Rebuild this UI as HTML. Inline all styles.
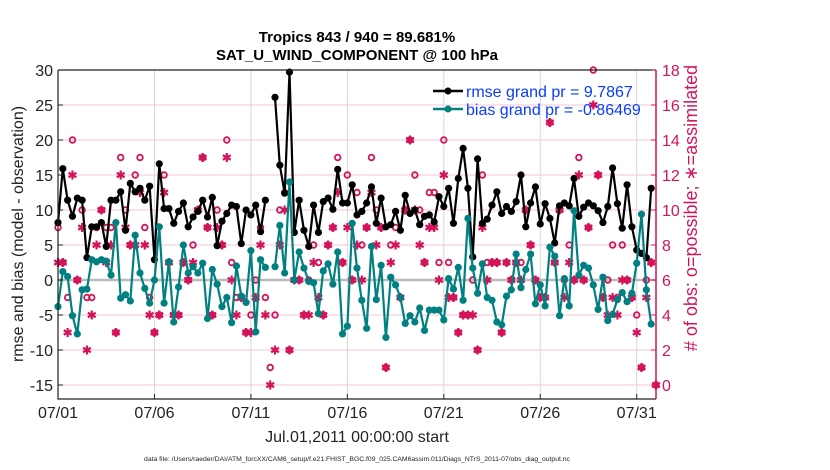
<!DOCTYPE html>
<html><head><meta charset="utf-8"><style>
body{margin:0;background:#fff;}
svg{display:block;font-family:"Liberation Sans",sans-serif;}
</style></head><body>
<svg id="chart" width="830" height="470" viewBox="0 0 830 470">
<text x="357" y="42" text-anchor="middle" font-size="15" font-weight="bold">Tropics 843 / 940 = 89.681%</text>
<text x="357" y="60" text-anchor="middle" font-size="15" font-weight="bold">SAT_U_WIND_COMPONENT @ 100 hPa</text>
<g id="grid"></g><g id="plot"></g><g id="axes"></g>
<text x="357" y="442" text-anchor="middle" font-size="16" fill="#222">Jul.01,2011 00:00:00 start</text>
<text x="357" y="461" text-anchor="middle" font-size="6.8" fill="#222">data file: /Users/raeder/DAI/ATM_forcXX/CAM6_setup/f.e21.FHIST_BGC.f09_025.CAM6assim.011/Diags_NTrS_2011-07/obs_diag_output.nc</text>
<text transform="translate(23,234) rotate(-90)" text-anchor="middle" font-size="16" fill="#222">rmse and bias (model - observation)</text>
<text transform="translate(697,208) rotate(-90)" text-anchor="middle" font-size="18" fill="#d4145a"># of obs: o=possible; ∗=assimilated</text>
<g>
<line x1="433" y1="91" x2="463" y2="91" stroke="#000" stroke-width="2.5"/><circle cx="448" cy="91" r="3.5" fill="#000"/>
<text x="466" y="97" font-size="16" fill="#0a3cff">rmse grand pr = 9.7867</text>
<line x1="433" y1="109" x2="463" y2="109" stroke="#008080" stroke-width="2.5"/><circle cx="448" cy="109" r="3.5" fill="#008080"/>
<text x="466" y="115" font-size="16" fill="#0a3cff">bias grand pr = -0.86469</text>
</g>
</svg>
<script>
const rmse=[8.2,15.9,11.4,9.1,11.7,11.4,3.2,7.6,7.6,8.2,4.8,11.4,11.4,12.6,7.1,13.8,12.6,13.1,11.4,13.4,2.9,16.6,10.2,10.2,8.1,9.8,11,7.6,9,9.8,11.4,9,11.8,4.9,8.4,9.5,10.7,10.5,5.2,10,9.3,10.7,6.9,11.4,null,26.1,16.4,12.4,29.7,6.8,11.4,7.1,4.8,10.7,6.8,11.2,11.7,10.1,15.8,11,11,13.6,9.3,9.8,11,13.3,8.1,11.7,7.6,7.9,9.8,7.1,12.1,9.5,10,7.9,9.1,9.3,8.3,11.9,10.5,13.1,8.1,14.5,18.8,13.1,3.3,17.3,8.1,8.7,10.7,12.6,9.5,10.5,9.8,11.2,15,7.6,11,13.3,8,10.9,8.8,5.3,10.6,11,10.6,14.5,9.1,10.4,11,10.6,9.9,8.2,10.5,16,10.9,7.4,13.6,7.6,4.3,3.8,3.2,13.1,null];
const bias=[-3.8,1.2,0.5,-5.1,-7.7,-1.4,-1.3,2.9,2.6,2.9,2.7,0.7,8.2,-2.6,-2.1,-3,6.4,1,-1.2,-3.3,0,7.6,-3.3,2.6,-6,-1,5,1,1.9,1,2.4,-5.5,1.5,-0.6,-3.8,-2.5,-6.1,2,-2.3,-3.2,4.2,-7.4,2.9,1.8,null,1.9,7.8,1,14,0,4,1.7,-0.2,-0.4,-4.8,1.3,2.3,-0.6,4,-7.7,-6.6,8.1,1.7,-2.9,-6.9,4.8,-2.8,2.1,-8.2,0.4,-0.7,-2.5,-6.2,-5.1,-6,-4,-7.2,-4.3,-4.3,-4.3,-5.7,0.2,-1.3,1.8,-2.9,8.8,1.7,-1.9,2.3,-2.5,-2.9,-6,-6.4,-2.3,-1.4,3.7,-1.1,1.5,3.7,-3.4,-0.7,-3.7,4.7,3.4,-5.1,0.2,-3.7,9.9,0.7,2.1,1.7,-0.7,-4.2,0.4,-5.8,-4.9,-2.8,-1.8,-3.1,-1.9,2.4,9.4,-1.4,-6.3,null];
const assimilated=[7,7,3,12,6,9,2,4,8,10,7,8,3,12,9,8,8,11,8,4,3,4,11,7,4,4,7,6,7,10,13,9,4,9,8,13,6,4,5,3,3,5,8,4,0,2,8,10,2,6,6,4,4,7,5,4,8,9,11,7,9,6,8,6,9,11,8,9,1,7,8,5,10,14,10,8,7,9,9,6,12,5,5,3,4,4,4,2,9,6,7,7,3,7,6,7,6,10,8,6,5,5,15,7,10,5,7,6,12,6,9,16,12,5,4,5,4,6,6,5,3,1,5,7,0];
const possible=[9,7,5,14,6,10,5,5,9,10,9,9,3,13,10,8,12,13,9,5,3,4,12,7,4,4,7,6,8,10,13,9,4,10,8,14,7,5,5,3,4,6,9,5,1,4,10,11,2,6,6,4,6,8,7,4,8,9,13,7,12,6,11,8,9,13,10,9,1,8,9,5,10,14,12,10,7,11,11,7,14,7,5,3,4,4,6,2,12,7,7,7,3,7,6,7,7,10,8,6,5,5,15,7,10,6,8,6,13,6,9,18,12,5,6,8,5,8,6,5,4,1,6,7,0];
const yTicks=[-15,-10,-5,0,5,10,15,20,25,30];
const rTicks=[0,2,4,6,8,10,12,14,16,18];
const xTickDays=[0,5,10,15,20,25,30];
const xTickLabels=["07/01","07/06","07/11","07/16","07/21","07/26","07/31"];

const L=58,R=656,T=70,B=399;
const xs=d=>L+(d/31)*(R-L);
const ys=v=>T+(30-v)*(B-T)/47;
const yr=r=>ys(r*2.5-15);
const NS="http://www.w3.org/2000/svg";
function mk(tag,attrs,parent){const e=document.createElementNS(NS,tag);for(const k in attrs)e.setAttribute(k,attrs[k]);parent.appendChild(e);return e;}
const grid=document.getElementById('grid'),plot=document.getElementById('plot'),axes=document.getElementById('axes');
const MAG="#d4145a",TEAL="#008080";

yTicks.forEach(v=>{if(v===0)return;const g=mk('line',{x1:L,x2:R,y1:ys(v),y2:ys(v),stroke:"#f3c6d6","stroke-width":1},grid);

});
xTickDays.forEach(d=>{const g=mk('line',{x1:xs(d),x2:xs(d),y1:T,y2:B,stroke:"#d8d8d8","stroke-width":1},grid);

});
const z=mk('line',{x1:L,x2:R,y1:ys(0),y2:ys(0),stroke:"#bbb","stroke-width":2.5},grid);



const tx=i=>xs(i*0.25);
function series(arr,color,name){
  let d="",pen=false;
  arr.forEach((v,i)=>{if(v===null){pen=false;return;}d+=(pen?"L":"M")+tx(i).toFixed(1)+" "+ys(v).toFixed(1)+" ";pen=true;});
  const p=mk('path',{d:d,fill:"none",stroke:color,"stroke-width":2.2,"stroke-linejoin":"round"},plot);
  
  
  arr.forEach((v,i)=>{if(v===null)return;const c=mk('circle',{cx:tx(i),cy:ys(v),r:3.6,fill:color},plot);
  
  });
}
possible.forEach((v,i)=>{const c=mk('circle',{cx:tx(i),cy:yr(v),r:2.8,fill:"none",stroke:MAG,"stroke-width":1.8},plot);

});
assimilated.forEach((v,i)=>{const cx=tx(i),cy=yr(v);
  const g=mk('g',{stroke:MAG,"stroke-width":2.2},plot);
  
  
  [[0,4.5],[3.9,2.25],[3.9,-2.25]].forEach(([dx,dy])=>mk('line',{x1:cx-dx,y1:cy-dy,x2:cx+dx,y2:cy+dy},g));
  mk('circle',{cx:cx,cy:cy,r:2.2,fill:MAG,stroke:"none"},g);});
series(rmse,"#000","rmse");
series(bias,TEAL,"bias");

const fr=mk('path',{d:`M${L} ${T}V${B}H${R}`,fill:"none",stroke:"#222","stroke-width":1.2},axes);


const ra=mk('line',{x1:R,x2:R,y1:T,y2:B,stroke:MAG,"stroke-width":1.5},axes);


const ta=mk('line',{x1:L,x2:R,y1:T,y2:T,stroke:"#222","stroke-width":1.2},axes);


yTicks.forEach(v=>{mk('line',{x1:L,x2:L+5,y1:ys(v),y2:ys(v),stroke:"#222"},axes);
const t=mk('text',{x:L-5,y:ys(v)+6,"text-anchor":"end","font-size":16,fill:"#222"},axes);t.textContent=v;

});
rTicks.forEach(v=>{mk('line',{x1:R-5,x2:R,y1:yr(v),y2:yr(v),stroke:MAG},axes);
const t=mk('text',{x:R+6,y:yr(v)+6,"font-size":16,fill:MAG},axes);t.textContent=v;

});
xTickDays.forEach((d,i)=>{mk('line',{x1:xs(d),x2:xs(d),y1:B,y2:B-5,stroke:"#222"},axes);
const t=mk('text',{x:xs(d),y:B+19,"text-anchor":"middle","font-size":16,fill:"#222"},axes);t.textContent=xTickLabels[i];

});
</script>
</body></html>
